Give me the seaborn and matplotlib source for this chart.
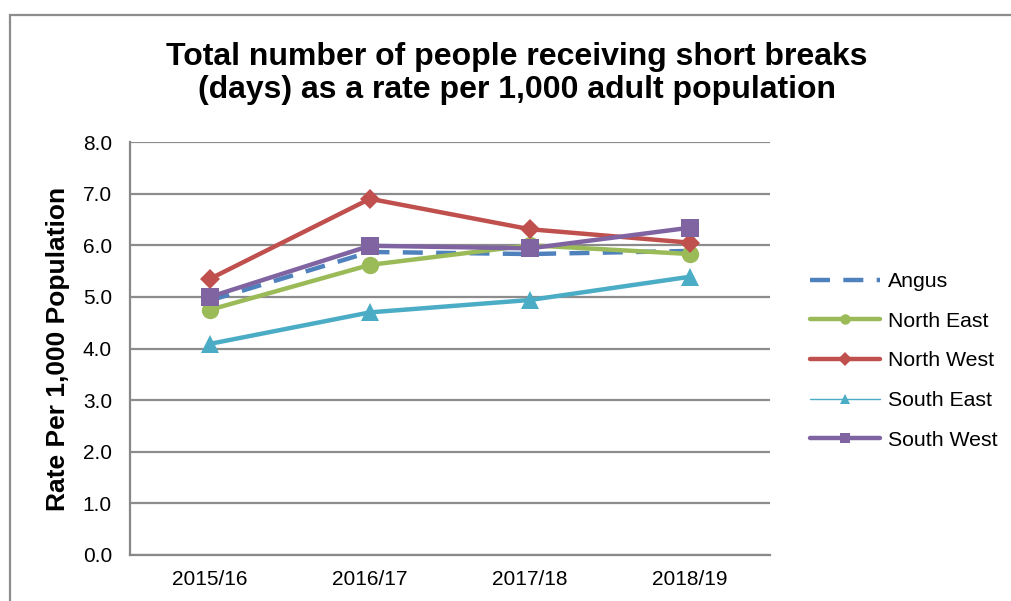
import pandas as pd
import numpy as np
import seaborn as sns
import matplotlib
matplotlib.use("Agg")
import matplotlib.pyplot as plt
from matplotlib.lines import Line2D
from matplotlib.patches import Rectangle

sns.set_style("white")
plt.rcParams['font.family'] = ['Liberation Sans', 'DejaVu Sans']
plt.rcParams['text.color'] = 'black'
plt.rcParams['xtick.color'] = 'black'
plt.rcParams['ytick.color'] = 'black'
plt.rcParams['axes.labelcolor'] = 'black'

years = ['2015/16', '2016/17', '2017/18', '2018/19']
angus = [4.93, 5.87, 5.83, 5.89]
north_east = [4.75, 5.62, 6.00, 5.83]
north_west = [5.35, 6.90, 6.31, 6.05]
south_east = [4.09, 4.70, 4.94, 5.39]
south_west = [5.00, 5.99, 5.94, 6.34]

series = {
    'Angus': angus,
    'North East': north_east,
    'North West': north_west,
    'South East': south_east,
    'South West': south_west,
}
styles = {
    'Angus': dict(color='#4F81BD', marker=None, ms=0, ls=(0, (4.5, 3))),
    'North East': dict(color='#9BBB59', marker='o', ms=12.5, ls='-'),
    'North West': dict(color='#C0504D', marker='D', ms=10, ls='-'),
    'South East': dict(color='#4BACC6', marker='^', ms=13.5, ls='-'),
    'South West': dict(color='#8064A2', marker='s', ms=12.5, ls='-'),
}

fig = plt.figure(figsize=(10.11, 6.01), dpi=100)
ax = fig.add_axes([130 / 1011, 1 - 555 / 601, 640 / 1011, 413 / 601])

xpos = np.arange(len(years))
for name, vals in series.items():
    st = styles[name]
    df = pd.DataFrame({'x': xpos, 'y': vals})
    sns.lineplot(data=df, x='x', y='y', ax=ax, color=st['color'], linewidth=3.2,
                 linestyle=st['ls'], marker=st['marker'], markersize=st['ms'],
                 markeredgewidth=0, legend=False, zorder=3)

ax.set_xlim(-0.5, 3.5)
ax.set_ylim(0, 8)
ax.set_yticks(np.arange(0, 8.01, 1.0))
ax.set_yticklabels([f'{v:.1f}' for v in np.arange(0, 8.01, 1.0)], fontsize=15)
ax.set_xticks(np.arange(-0.5, 3.6, 1.0))
ax.set_xticklabels([])
ax.set_xticks(xpos, minor=True)
ax.set_xticklabels(years, minor=True, fontsize=15)
ax.tick_params(axis='x', which='minor', length=0, pad=11)
ax.tick_params(axis='x', which='major', length=6, width=1.5, color='#888888', direction='out')
ax.tick_params(axis='y', length=6, width=1.5, color='#888888', labelcolor='black', direction='out', pad=7)
ax.yaxis.grid(True, color='#8c8c8c', linewidth=1.6)
ax.xaxis.grid(False)
ax.set_axisbelow(True)
for s in ['top', 'right']:
    ax.spines[s].set_visible(False)
for s in ['left', 'bottom']:
    ax.spines[s].set_color('#888888')
    ax.spines[s].set_linewidth(1.6)
ax.set_xlabel('')
ax.set_ylabel('Rate Per 1,000 Population', fontsize=19, fontweight='bold', labelpad=9)

fig.suptitle('Total number of people receiving short breaks\n(days) as a rate per 1,000 adult population',
             x=0.511, y=0.93, fontsize=23, fontweight='bold', linespacing=1.12)

handles = []
for name in series:
    st = styles[name]
    lw = 1.0 if name == 'South East' else 3.2
    ms = 0 if st['marker'] is None else 7.5
    handles.append(Line2D([], [], color=st['color'], lw=lw, ls=st['ls'],
                          marker=st['marker'], markersize=ms, markeredgewidth=0))
fig.legend(handles, list(series.keys()), loc='center left', bbox_to_anchor=(791 / 1011, 1 - 361 / 601),
           frameon=False, fontsize=15.3, handlelength=3.3, handletextpad=0.38, labelspacing=0.97)

fig.patches.append(Rectangle((10 / 1011, -0.1), 1.2, 1 - 15 / 601 + 0.1, transform=fig.transFigure,
                             fill=False, edgecolor='#8c8c8c', linewidth=1.6))

fig.savefig('out.png', dpi=100)
